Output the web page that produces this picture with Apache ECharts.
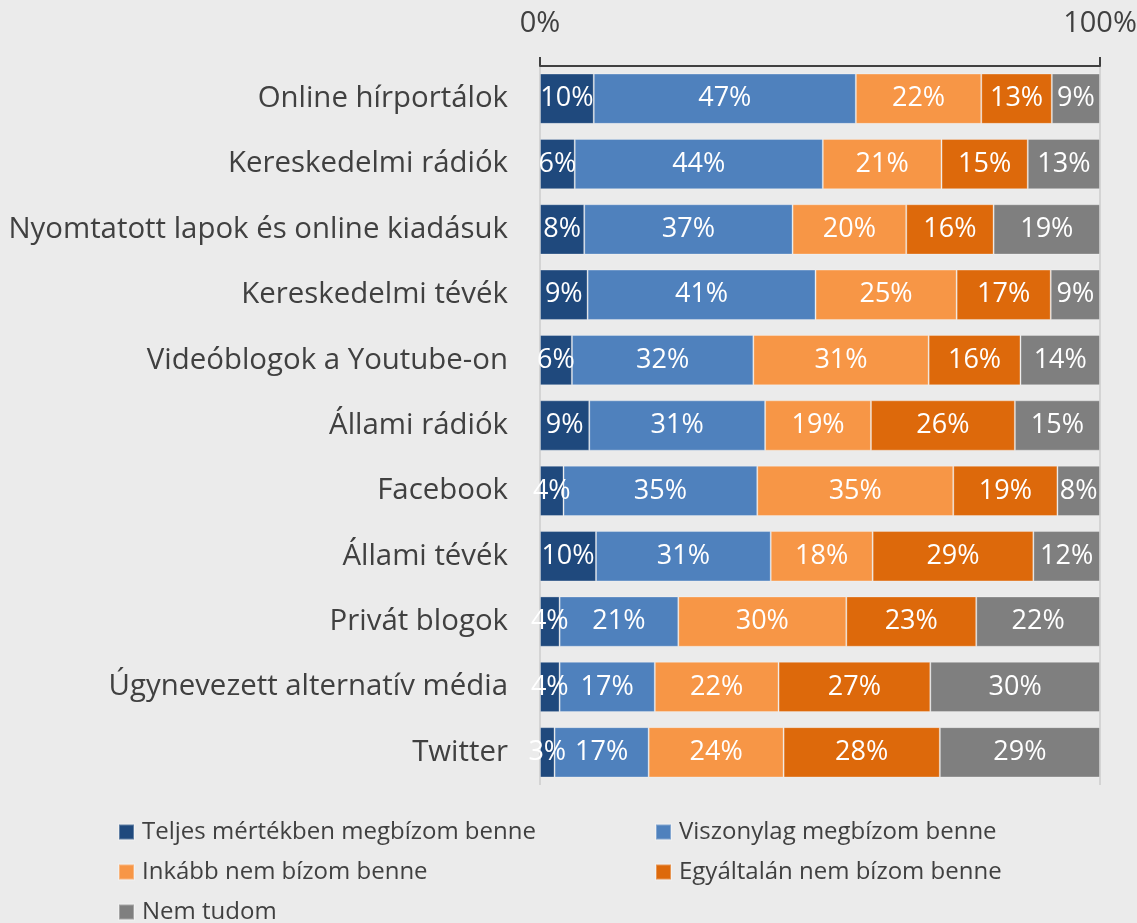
<!DOCTYPE html>
<html>
<head>
<meta charset="utf-8">
<script src="https://cdn.jsdelivr.net/npm/echarts@6/dist/echarts.min.js"></script>
<style>
  html, body { margin: 0; padding: 0; background: #ebebeb; }
  #chart { width: 1137px; height: 923px; }
</style>
</head>
<body>
<div id="chart"></div>
<script>
// categories, top to bottom
const categories = [
  'Online hírportálok',
  'Kereskedelmi rádiók',
  'Nyomtatott lapok és online kiadásuk',
  'Kereskedelmi tévék',
  'Videóblogok a Youtube-on',
  'Állami rádiók',
  'Facebook',
  'Állami tévék',
  'Privát blogok',
  'Úgynevezett alternatív média',
  'Twitter'
];
const seriesNames = [
  'Teljes mértékben megbízom benne',
  'Viszonylag megbízom benne',
  'Inkább nem bízom benne',
  'Egyáltalán nem bízom benne',
  'Nem tudom'
];
// shares in % (labels are rounded)
const teljes      = [9.6, 6.2, 7.9, 8.5, 5.7, 8.8, 4.2, 10.0, 3.5, 3.5, 2.6];
const viszonylag  = [46.8, 44.3, 37.2, 40.7, 32.4, 31.4, 34.6, 31.2, 21.2, 17.0, 16.8];
const inkabbNem   = [22.4, 21.2, 20.3, 25.2, 31.3, 18.9, 35.0, 18.2, 30.0, 22.1, 24.1];
const egyaltalan  = [12.6, 15.4, 15.6, 16.8, 16.4, 25.7, 18.6, 28.7, 23.2, 27.1, 27.9];
const nemTudom    = [8.6, 12.9, 19.0, 8.8, 14.2, 15.2, 7.6, 11.9, 22.1, 30.3, 28.6];
const xTicks = [0, 100];

const colors = ['#1f497d', '#4f81bd', '#f79646', '#dd690b', '#7f7f7f'];
const values = [teljes, viszonylag, inkabbNem, egyaltalan, nemTudom];
const font = '"Open Sans", "Noto Sans", sans-serif';

// legend slots: [left, centre y] for each series
const legendPos = [[118, 832], [655, 832], [118, 872], [655, 872], [118, 912]];

const chart = echarts.init(document.getElementById('chart'));

const series = seriesNames.map(function (name, i) {
  return {
    name: name,
    type: 'bar',
    stack: 'total',
    barCategoryGap: '23%',
    data: values[i],
    itemStyle: { color: colors[i], borderColor: 'rgba(255,255,255,0.3)', borderWidth: 1 },
    label: {
      show: true,
      position: 'inside',
      color: '#ffffff',
      fontFamily: font,
      fontSize: 27,
      formatter: function (p) { return Math.round(p.value) + '%'; }
    },
    emphasis: { disabled: true }
  };
});

const legends = seriesNames.map(function (name, i) {
  return {
    data: [name],
    left: legendPos[i][0],
    top: legendPos[i][1] - 13,
    padding: 0,
    icon: 'rect',
    itemWidth: 15,
    itemHeight: 15,
    itemGap: 8,
    selectedMode: false,
    textStyle: { color: '#404040', fontFamily: font, fontSize: 24, lineHeight: 26, padding: [0, 0, 0, 3] }
  };
});

chart.setOption({
  backgroundColor: '#ebebeb',
  animation: false,
  color: colors,
  grid: { left: 540, right: 37, top: 66, bottom: 138, outerBoundsMode: 'none' },
  xAxis: {
    type: 'value',
    position: 'top',
    min: xTicks[0],
    max: xTicks[1],
    interval: 100,
    axisLine: { show: true, lineStyle: { color: '#404040', width: 2 } },
    axisTick: { show: true, length: 9, lineStyle: { color: '#404040', width: 2 } },
    axisLabel: {
      color: '#404040',
      fontFamily: font,
      fontSize: 29,
      margin: 28,
      formatter: '{value}%'
    },
    splitLine: { show: true, lineStyle: { color: '#d4d4d4', width: 2 } }
  },
  yAxis: {
    type: 'category',
    inverse: true,
    data: categories,
    axisLine: { show: false },
    axisTick: { show: false },
    axisLabel: {
      color: '#404040',
      fontFamily: font,
      fontSize: 29.4,
      margin: 32
    }
  },
  legend: legends,
  series: series
});
</script>
</body>
</html>
